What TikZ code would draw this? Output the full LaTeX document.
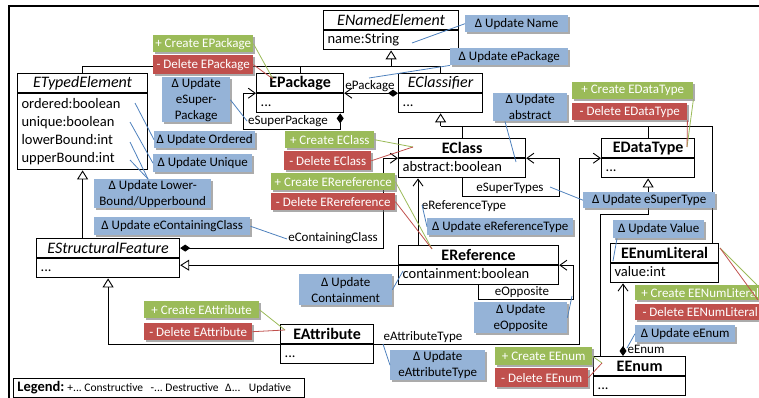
\documentclass[tikz,border=0pt]{standalone}
\usepackage{fontspec}
\setmainfont{Carlito}
\usetikzlibrary{positioning}
\usetikzlibrary{calc}
\usetikzlibrary{arrows.meta}
\usetikzlibrary{shadows}
\definecolor{addgreen}{RGB}{155,187,89}
\definecolor{delred}{RGB}{192,80,77}
\definecolor{updblue}{RGB}{149,179,215}
\definecolor{lineblue}{RGB}{79,129,189}
\tikzset{%
  ctitle/.style = {draw,line width=1.2pt,anchor=north west,minimum width=#1,
        minimum height=19pt,inner sep=0pt,font=\fontsize{16}{18}\selectfont\bfseries},
  atitle/.style = {ctitle=#1,font=\fontsize{16}{18}\selectfont\itshape},
  cbody/.style = {draw,line width=1.2pt,text width=#1,inner xsep=4pt,inner ysep=0.5pt,
        align=left,font=\fontsize{14.5}{18}\selectfont,execute at begin node=\strut,
        execute at end node=\strut},
  lbl/.style = {inner sep=0.5pt,font=\fontsize{13}{15}\selectfont},
  gen/.style = {-{Triangle[open,length=9pt,width=11pt]},line width=0.9pt},
  assoc/.style = {-{Straight Barb[length=7pt,width=10pt]},line width=0.9pt},
  comp/.style = {{Diamond[length=10pt,width=7pt]}-{Straight Barb[length=7pt,width=10pt]},
        line width=0.9pt},
  plain/.style = {line width=0.9pt},
  ann/.style = {anchor=north west,inner sep=1pt,align=center,
        font=\fontsize{13}{16}\selectfont,
        drop shadow={shadow xshift=1.5pt,shadow yshift=-1.5pt,fill=black!55,opacity=0.6}},
  addbox/.style 2 args = {ann,fill=addgreen,text=white,minimum width=#1,minimum height=#2},
  delbox/.style 2 args = {ann,fill=delred,text=white,minimum width=#1,minimum height=#2},
  updbox/.style 2 args = {ann,fill=updblue,text=black,minimum width=#1,minimum height=#2},
  addl/.style = {draw=addgreen,line width=0.8pt},
  dell/.style = {draw=delred,line width=0.8pt},
  updl/.style = {draw=lineblue,line width=0.8pt}
}
\begin{document}
\begin{tikzpicture}[x=1pt,y=-1pt]
    \useasboundingbox (0,0) rectangle (759,398);
    \draw[line width=1.3pt] (9,405) -- (9,6) -- (765,6);

    \node[atitle=135pt] (nameT) at (323,10) {ENamedElement};
    \node[cbody=127pt,below=0pt of nameT] (nameB) {name:String};
    \node[atitle=130pt] (typedT) at (17,73) {ETypedElement};
    \node[cbody=122pt,below=0pt of typedT,minimum height=76pt] (typedB)
        {ordered:boolean\\unique:boolean\\lowerBound:int\\upperBound:int};
    \node[ctitle=87pt] (pkgT) at (256,73) {EPackage};
    \node[cbody=79pt,below=0pt of pkgT] (pkgB) {...};
    \node[atitle=84pt] (clsfT) at (398,73) {EClassifier};
    \node[cbody=76pt,below=0pt of clsfT] (clsfB) {...};
    \node[ctitle=127pt] (clsT) at (398,138) {EClass};
    \node[cbody=119pt,below=0pt of clsT] (clsB) {abstract:boolean};
    \node[ctitle=93pt] (dtT) at (601,138) {EDataType};
    \node[cbody=85pt,below=0pt of dtT] (dtB) {...};
    \node[atitle=143pt] (sfT) at (36,238) {EStructuralFeature};
    \node[cbody=135pt,below=0pt of sfT] (sfB) {...};
    \node[ctitle=160pt] (refT) at (398,245) {EReference};
    \node[cbody=152pt,below=0pt of refT] (refB) {containment:boolean};
    \node[ctitle=108pt] (litT) at (610,243) {EEnumLiteral};
    \node[cbody=100pt,below=0pt of litT] (litB) {value:int};
    \node[ctitle=93pt] (attrT) at (280,324) {EAttribute};
    \node[cbody=85pt,below=0pt of attrT] (attrB) {...};
    \node[ctitle=92pt] (enumT) at (593,356) {EEnum};
    \node[cbody=84pt,below=0pt of enumT] (enumB) {...};

    \coordinate (j1) at ($(nameB.south)+(0,16)$);
    \draw[gen] (j1) -- (nameB.south);
    \draw[plain] (typedT.north) |- (j1) -| (clsfT.north);
    \draw[plain] (pkgT.north) -- (pkgT.north |- j1);
    \coordinate (j2) at ($(clsfB.south)+(0,13)$);
    \coordinate (k1) at ($(litT.north east)+(-7,0)$);
    \draw[gen] (j2) -- (clsfB.south);
    \draw[plain] (j2) -| (k1);
    \draw[plain] (clsT.north) -- (clsT.north |- j2);
    \draw[plain] (dtT.north) -- (dtT.north |- j2);
    \draw[gen] (sfT.north -| typedB.south) -- (typedB.south);
    \draw[gen] (attrT.south west) -| (sfB.south);
    \draw[gen] (refT.south west) -- (refT.south west -| sfB.east);
    \coordinate (j3) at ($(dtB.south)+(0,36)$);
    \draw[gen] ($(enumT.north west)+(7,0)$) |- (j3) -- (dtB.south);

    \draw[comp] (sfT.east) -| ($(clsT.south west)+(-15,0)$) -- (clsT.south west);
    \draw[comp] (clsfT.south west) -- (pkgT.south east);
    \draw[comp] ($(pkgB.south east)+(-4,0)$) -- ++(0,16)
        -| ($(pkgT.south west)+(-13,0)$) -- (pkgT.south west);
    \draw[assoc] (clsB.south) -- ++(0,18) -| ($(clsT.south east)+(33,0)$) -- (clsT.south east);
    \draw[assoc] ($(refT.north west)+(20,0)$) -- ($(clsB.south west)+(20,0)$);
    \draw[assoc] (refB.south) -- ++(0,14) -| ($(refT.south east)+(14,0)$) -- (refT.south east);
    \draw[assoc] (attrT.south east) -| ($(dtT.south west)+(-22,0)$) -- (dtT.south west);
    \draw[comp] ($(enumT.north west)+(30,0)$) -- ($(litB.south west)+(13,0)$);

    \node[lbl] (lcont) at (333,238) {eContainingClass};
    \node[lbl] (lpkg) at (370,86) {ePackage};
    \node[lbl] (lspkg) at (288,121) {eSuperPackage};
    \node[lbl] (lstypes) at (510,188) {eSuperTypes};
    \node[lbl] (lreft) at (464,206) {eReferenceType};
    \node[lbl] (lopp) at (522,292) {eOpposite};
    \node[lbl] (lattrt) at (423,337) {eAttributeType};
    \node[lbl] (lenum) at (646,349) {eEnum};

    \node[updbox={103pt}{17pt}] (updName) at (465,15) {Δ Update Name};
    \node[updbox={118pt}{17pt}] (updEPkg) at (450,48) {Δ Update ePackage};
    \node[addbox={100pt}{17pt}] (addPkg) at (153,35) {+ Create EPackage};
    \node[delbox={100pt}{19pt}] (delPkg) at (153,55) {- Delete EPackage};
    \node[updbox={68pt}{43pt}] (updSPkg) at (162,77) {Δ Update\\eSuper-\\Package};
    \node[updbox={101pt}{17pt}] (updOrd) at (154,131) {Δ Update Ordered};
    \node[updbox={99pt}{18pt}] (updUniq) at (153,154) {Δ Update Unique};
    \node[updbox={117pt}{29pt}] (updBound) at (94,179) {Δ Update Lower-\\Bound/Upperbound};
    \node[updbox={156pt}{18pt}] (updCont) at (94,217) {Δ Update eContainingClass};
    \node[addbox={89pt}{17pt}] (addCls) at (285,131) {+ Create EClass};
    \node[delbox={87pt}{19pt}] (delCls) at (284,151) {- Delete EClass};
    \node[addbox={124pt}{17pt}] (addRef) at (271,173) {+ Create ERereference};
    \node[delbox={124pt}{17pt}] (delRef) at (271,193) {- Delete ERereference};
    \node[updbox={74pt}{28pt}] (updAbs) at (493,93) {Δ Update\\abstract};
    \node[addbox={121pt}{17pt}] (addDT) at (572,82) {+ Create EDataType};
    \node[delbox={115pt}{17pt}] (delDT) at (572,103) {- Delete EDataType};
    \node[updbox={132pt}{16pt}] (updSType) at (583,192) {Δ Update eSuperType};
    \node[updbox={146pt}{17pt}] (updRType) at (427,218) {Δ Update eReferenceType};
    \node[updbox={93pt}{31pt}] (updContain) at (299,274) {Δ Update\\Containment};
    \node[updbox={93pt}{31pt}] (updOpp) at (474,302) {Δ Update\\eOpposite};
    \node[updbox={95pt}{30pt}] (updAType) at (390,350) {Δ Update\\eAttributeType};
    \node[addbox={115pt}{17pt}] (addAttr) at (144,301) {+ Create EAttribute};
    \node[delbox={108pt}{17pt}] (delAttr) at (144,323) {- Delete EAttribute};
    \node[addbox={97pt}{18pt}] (addEnum) at (495,347) {+ Create EEnum};
    \node[delbox={93pt}{19pt}] (delEnum) at (495,368) {- Delete EEnum};
    \node[updbox={91pt}{18pt}] (updVal) at (613,220) {Δ Update Value};
    \node[addbox={130pt}{15pt}] (addLit) at (635,285) {+ Create EENumLiteral};
    \node[delbox={130pt}{16pt}] (delLit) at (635,304) {- Delete EENumLiteral};
    \node[updbox={100pt}{17pt}] (updEEnum) at (635,325) {Δ Update eEnum};

    \coordinate (tName) at (412,43);
    \coordinate (tEPkg) at (369,78);
    \coordinate (tPkg) at (273,79);
    \coordinate (tSPkg) at (247,121);
    \coordinate (tOrd) at (135,103);
    \coordinate (tUniq) at (130,122);
    \coordinate (tLow) at (130,142);
    \coordinate (tUpp) at (130,160);
    \coordinate (tCont) at (287,239);
    \coordinate (tCls) at (413,147);
    \coordinate (tRef) at (432,249);
    \coordinate (tAbs) at (516,162);
    \coordinate (tDT) at (687,147);
    \coordinate (tSType) at (550,187);
    \coordinate (tRType) at (422,205);
    \coordinate (tContain) at (403,271);
    \coordinate (tOpp) at (572,296);
    \coordinate (tAType) at (383,344);
    \coordinate (tAttr) at (285,330);
    \coordinate (tEnum) at (602,363);
    \coordinate (tVal) at (613,261);
    \coordinate (tLit) at (720,248);
    \coordinate (tEEnum) at (627,348);

    \draw[updl] (updName.west) -- (tName);
    \draw[updl] (updEPkg.south west) -- (tEPkg);
    \draw[addl] (addPkg.east) -- (tPkg);
    \draw[dell] (delPkg.east) -- (tPkg);
    \draw[updl] (updSPkg.east) -- (tSPkg);
    \draw[updl] (updOrd.west) -- (tOrd);
    \draw[updl] (updUniq.west) -- (tUniq);
    \draw[updl] ($(updBound.north west)+(54,0)$) -- (tLow);
    \draw[updl] ($(updBound.north west)+(54,0)$) -- (tUpp);
    \draw[updl] (updCont.east) -- (tCont);
    \draw[addl] (addCls.east) -- (tCls);
    \draw[dell] (delCls.east) -- (tCls);
    \draw[addl] (addRef.east) -- (tRef);
    \draw[dell] (delRef.east) -- (tRef);
    \draw[updl] ($(updAbs.south west)+(12,0)$) -- (tAbs);
    \draw[addl] (addDT.south east) -- (tDT);
    \draw[dell] (delDT.south east) -- (tDT);
    \draw[updl] (updSType.west) -- (tSType);
    \draw[updl] (updRType.west) -- (tRType);
    \draw[updl] (updContain.east) -- (tContain);
    \draw[updl] (updOpp.east) -- (tOpp);
    \draw[updl] (updAType.west) -- (tAType);
    \draw[addl] (addAttr.east) -- (tAttr);
    \draw[dell] (delAttr.east) -- (tAttr);
    \draw[addl] (addEnum.east) -- (tEnum);
    \draw[dell] (delEnum.east) -- (tEnum);
    \draw[updl] ($(updVal.south west)+(4,0)$) -- (tVal);
    \draw[addl] ($(addLit.north west)+(122,0)$) -- (tLit);
    \draw[dell] ($(delLit.north west)+(123,-4)$) -- (tLit);
    \draw[updl] (updEEnum.west) -- (tEEnum);

    \node[draw,line width=0.9pt,anchor=north west,minimum width=291pt,minimum height=19pt,
        inner xsep=4pt,inner ysep=0pt] (legend) at (13,378)
        {\makebox[283pt][l]{{\fontsize{14.5}{16}\selectfont\bfseries Legend:} {\fontsize{11.5}{13}\selectfont
        +...\ Constructive\hspace{5pt} -...\ Destructive\hspace{4pt} Δ...\hspace{5pt} Updative}}};
\end{tikzpicture}
\end{document}
